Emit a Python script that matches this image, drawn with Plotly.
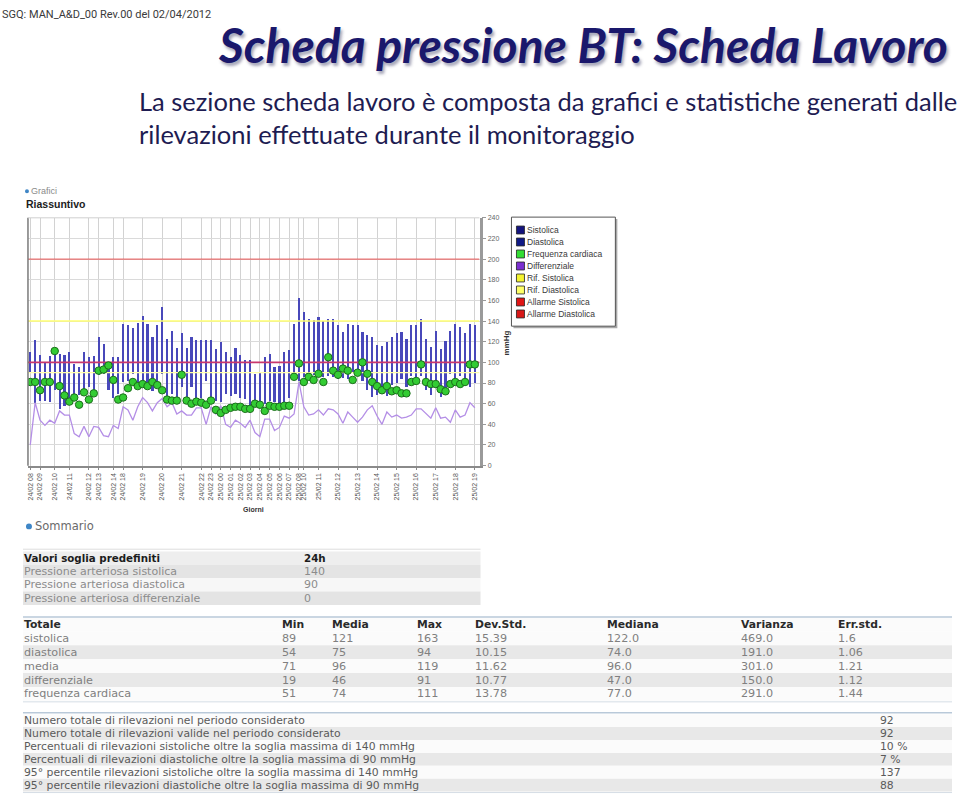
import plotly.graph_objects as go

W, H = 960, 801

# ---------------- data ----------------
sys_bp = [110,122,107,100,106,114,108,107,110,99,96,110,105,106,125,118,101,105,105,137,
          136,133,138,145,137,125,136,154,123,131,114,129,114,125,122,122,122,122,113,120,
          110,105,114,107,102,102,89,90,105,108,96,97,110,112,137,163,
          149,142,141,144,140,142,142,136,130,137,136,136,130,127,125,117,116,120,125,129,
          130,123,136,136,142,123,115,131,113,121,131,137,134,129,137,136]
dia_bp = [91,61,63,63,62,73,55,58,60,66,69,72,76,68,88,89,73,66,70,81,
          82,89,79,81,79,72,75,89,66,70,64,76,65,76,66,66,82,65,63,62,
          70,68,70,66,65,58,57,62,60,63,62,60,62,66,86,82,
          86,88,88,88,86,87,86,84,85,84,90,92,82,73,67,69,76,68,78,80,
          84,76,87,81,87,73,69,75,67,74,89,83,87,80,76,80]
diff_bp = [20,61,44,39,44,41,53,49,49,31,28,38,28,38,37,29,28,39,36,57,
           54,44,57,66,61,53,61,65,57,61,50,53,49,49,56,56,40,57,50,58,
           40,37,44,41,37,44,32,28,45,45,34,37,48,46,50,81,
           57,49,50,54,49,55,54,50,41,52,47,42,47,54,58,48,40,52,47,49,
           46,47,49,55,55,50,46,56,46,47,42,54,47,49,61,56]
hr = [81,81,73,81,81,111,77,68,62,66,59,71,64,70,92,93,97,83,64,66,
      75,81,77,79,77,81,78,73,64,63,63,88,63,60,62,61,59,63,54,51,
      54,56,57,57,55,55,60,59,53,58,57,57,58,58,86,99,
      81,86,83,89,81,105,92,88,94,92,83,90,100,89,81,77,73,77,72,73,
      70,70,81,82,98,81,79,79,74,72,79,81,79,81,98,98]
idx = list(range(len(sys_bp)))

tick_idx = [0,2,5,8,12,14,17,19,23,27,31,35,37,39,41,43,45,47,49,51,53,55,56,
            59,63,67,71,75,79,83,87,91]
tick_lbl = ["24/02 08","24/02 09","24/02 10","24/02 11","24/02 12","24/02 13","24/02 14",
            "24/02 18","24/02 19","24/02 20","24/02 21","24/02 22","24/02 23",
            "25/02 00","25/02 01","25/02 02","25/02 03","25/02 04","25/02 05","25/02 06",
            "25/02 07","25/02 08","25/02 10","25/02 11","25/02 12","25/02 13","25/02 14",
            "25/02 15","25/02 16","25/02 17","25/02 18","25/02 19"]

ref_sys, ref_dia, alarm_sys, alarm_dia = 140, 90, 200, 100

legend_names = ["Sistolica","Diastolica","Frequenza cardiaca","Differenziale",
                "Rif. Sistolica","Rif. Diastolica","Allarme Sistolica","Allarme Diastolica"]
legend_cols = ["#14147e","#101a86","#33dd33","#7b2fd0","#f4f430","#ffff66","#e01515","#d81818"]

thr_header = ["Valori soglia predefiniti", "24h"]
thr_rows = ["Pressione arteriosa sistolica","Pressione arteriosa diastolica",
            "Pressione arteriosa differenziale"]
thr_vals = ["140","90","0"]

stat_cols = ["Totale","Min","Media","Max","Dev.Std.","Mediana","Varianza","Err.std."]
stat_names = ["sistolica","diastolica","media","differenziale","frequenza cardiaca"]
stat_min = ["89","54","71","19","51"]
stat_mean = ["121","75","96","46","74"]
stat_max = ["163","94","119","91","111"]
stat_std = ["15.39","10.15","11.62","10.77","13.78"]
stat_median = ["122.0","74.0","96.0","47.0","77.0"]
stat_var = ["469.0","191.0","301.0","150.0","291.0"]
stat_err = ["1.6","1.06","1.21","1.12","1.44"]

sum_labels = ["Numero totale di rilevazioni nel periodo considerato",
              "Numero totale di rilevazioni valide nel periodo considerato",
              "Percentuali di rilevazioni sistoliche oltre la soglia massima di 140 mmHg",
              "Percentuali di rilevazioni diastoliche oltre la soglia massima di 90 mmHg",
              "95° percentile rilevazioni sistoliche oltre la soglia massima di 140 mmHg",
              "95° percentile rilevazioni diastoliche oltre la soglia massima di 90 mmHg"]
sum_vals = ["92","92","10 %","7 %","137","88"]

# ---------------- helpers ----------------
def fx(x):
    return x / W

def fy(y):
    return 1 - y / H

annots = []
shapes = []
PAD = 3  # annotation inner offset

def ann(x, y, text, size, color, family="Liberation Sans", xanchor="left",
        yanchor="middle", angle=0, shadow=None):
    xx = x - PAD if xanchor == "left" else x
    font = dict(size=size, color=color, family=family)
    if shadow:
        font["shadow"] = shadow
    annots.append(dict(x=fx(xx), y=fy(y), xref="paper", yref="paper", text=text,
                       showarrow=False, xanchor=xanchor, yanchor=yanchor,
                       textangle=angle, font=font, borderpad=0))

def rect(x0, y0, x1, y1, fill, line=None, lw=0):
    shapes.append(dict(type="rect", xref="paper", yref="paper", x0=fx(x0), x1=fx(x1),
                       y0=fy(y1), y1=fy(y0), fillcolor=fill,
                       line=dict(color=line or fill, width=lw),
                       layer="below" if lw == 0 else "above"))

def hline(x0, x1, y, color, w=1):
    shapes.append(dict(type="line", xref="paper", yref="paper", x0=fx(x0), x1=fx(x1),
                       y0=fy(y), y1=fy(y), line=dict(color=color, width=w)))

def vline(x, y0, y1, color, w=1):
    shapes.append(dict(type="line", xref="paper", yref="paper", x0=fx(x), x1=fx(x),
                       y0=fy(y0), y1=fy(y1), line=dict(color=color, width=w)))

# ---------------- chart ----------------
PX0, PX1 = 27, 479
PY_TOP, PY_BOT = 215.7, 465.7
XR = [-0.47, 91.96]

fig = go.Figure()
for lvl, col, w in [(ref_sys, "#ffff70", 1.5), (ref_dia, "#ffffa8", 1.2),
                    (alarm_sys, "#e85050", 1.0), (alarm_dia, "#c8386e", 1.6)]:
    fig.add_trace(go.Scatter(x=XR, y=[lvl, lvl], mode="lines", line=dict(color=col, width=w),
                             hoverinfo="skip"))
fig.add_trace(go.Bar(x=idx, y=[s - d for s, d in zip(sys_bp, dia_bp)], base=dia_bp,
                     width=0.44, marker=dict(color="#4848ba", line=dict(width=0))))
fig.add_trace(go.Scatter(x=idx, y=diff_bp, mode="lines",
                         line=dict(color="#b48ee6", width=1.3)))
fig.add_trace(go.Scatter(x=idx, y=hr, mode="markers",
                         marker=dict(size=7.5, color="#33cc33",
                                     line=dict(color="#1c6e1c", width=1))))

# chart borders
vline(PX0, PY_TOP, PY_BOT, "#7a7a7a", 1.5)
hline(PX0, PX1, PY_TOP, "#cfcfcf", 1)

# chart titles / labels
shapes.append(dict(type="circle", xref="paper", yref="paper", x0=fx(24), x1=fx(28),
                   y0=fy(191), y1=fy(187), fillcolor="#3f86c6", line=dict(width=0)))
ann(32, 189, "Grafici", 9, "#8a8a8a")
ann(27, 201.5, "<b>Riassuntivo</b>", 10.5, "#1c1c1c")
ann(253, 510, "<b>Giorni</b>", 7, "#333333", xanchor="center")
ann(506, 342, "<b>mmHg</b>", 8, "#333333", xanchor="center", angle=-90)

# legend box
rect(513, 217, 617, 327, "#a8a8a8")
rect(511, 215, 615, 325, "#ffffff", "#555555", 1)
for k, (nm, col) in enumerate(zip(legend_names, legend_cols)):
    yc = 228 + 12.1 * k
    rect(516, yc - 4, 524, yc + 4, col, "#222222", 0.8)
    ann(529, yc, nm, 8.5, "#3a3a3a", family="Liberation Sans")

# ---------------- header texts ----------------
ann(3, 11, "SGQ: MAN_A&D_00 Rev.00 del 02/04/2012", 11, "#3a3a3a", family="Roboto")
ann(219, 41, "<b><i>Scheda pressione BT: Scheda Lavoro</i></b>", 48, "#1a186c",
    family="Lato", shadow="2px 3px 3px rgba(60,60,100,0.45)")
ann(140, 98, "La sezione scheda lavoro è composta da grafici e statistiche generati dalle",
    25.5, "#1e1c52", family="Lato")
ann(140, 131, "rilevazioni effettuate durante il monitoraggio", 25.5, "#1e1c52", family="Lato")

# ---------------- Sommario ----------------
shapes.append(dict(type="circle", xref="paper", yref="paper", x0=fx(25), x1=fx(31),
                   y0=fy(530), y1=fy(524), fillcolor="#3f86c6", line=dict(width=0)))
ann(36, 527, "Sommario", 11.5, "#6a6a6a", family="DejaVu Sans")

VERD = "DejaVu Sans"

# table 1
hline(22, 480, 550, "#dddddd", 1)
t1_rows_y = [559, 572.5, 586, 599.5]
t1_fill = ["#eeeeee", "#e4e4e4", "#f7f7f7", "#e4e4e4"]
for yc, f in zip(t1_rows_y, t1_fill):
    rect(22, yc - 6.75, 480, yc + 6.75, f)
ann(25, t1_rows_y[0], "<b>" + thr_header[0] + "</b>", 10.3, "#1c1c1c", family=VERD)
ann(305, t1_rows_y[0], "<b>" + thr_header[1] + "</b>", 10.3, "#1c1c1c", family=VERD)
for yc, nm, v in zip(t1_rows_y[1:], thr_rows, thr_vals):
    ann(25, yc, nm, 11, "#8c8c8c", family=VERD)
    ann(305, yc, v, 11, "#8c8c8c", family=VERD)

# table 2
t2_x = [25, 283, 333, 418, 476, 609, 743, 840]
t2_rows_y = [626, 640, 654, 668, 682, 696]
hline(22, 952, 618.5, "#b9c9d9", 1.5)
hline(22, 952, 704, "#d5dde5", 1)
for k, yc in enumerate(t2_rows_y):
    rect(22, yc - 7, 952, yc + 7, "#e8e8e8" if k in (2, 4) else "#fbfbfb")
for x, c in zip(t2_x, stat_cols):
    ann(x, t2_rows_y[0], "<b>" + c + "</b>", 10.8, "#2a2a2a", family=VERD)
stat_table = [stat_names, stat_min, stat_mean, stat_max, stat_std, stat_median, stat_var, stat_err]
for x, col in zip(t2_x, stat_table):
    for yc, v in zip(t2_rows_y[1:], col):
        ann(x, yc, v, 11.2, "#808080", family=VERD)

# table 3
t3_rows_y = [723, 736, 749, 762, 775, 788]
hline(22, 952, 715, "#b9c9d9", 1.5)
hline(22, 952, 795.5, "#d5dde5", 1)
for k, yc in enumerate(t3_rows_y):
    rect(22, yc - 6.5, 952, yc + 6.5, "#e8e8e8" if k % 2 == 1 else "#fbfbfb")
for yc, lb, v in zip(t3_rows_y, sum_labels, sum_vals):
    ann(25, yc, lb, 10.8, "#5a5a5a", family=VERD)
    ann(882, yc, v, 10.8, "#5a5a5a", family=VERD)

fig.update_layout(
    width=W, height=H, margin=dict(l=0, r=0, t=0, b=0),
    paper_bgcolor="white", plot_bgcolor="white", showlegend=False, bargap=0,
    xaxis=dict(domain=[fx(PX0), fx(PX1)], range=XR, tickmode="array",
               tickvals=tick_idx, ticktext=tick_lbl, tickangle=-90,
               tickfont=dict(size=7, color="#555555", family="Liberation Sans"),
               ticks="outside", ticklen=3, tickcolor="#888888",
               showgrid=True, gridcolor="#d2d2d2", gridwidth=1,
               showline=True, linecolor="#8a8a8a", linewidth=1.5, zeroline=False),
    yaxis=dict(domain=[fy(PY_BOT), fy(PY_TOP)], range=[0, 240], dtick=20, side="right",
               tickfont=dict(size=7, color="#666666", family="Liberation Sans"),
               ticks="outside", ticklen=4, tickcolor="#999999",
               showgrid=True, gridcolor="#dadada", gridwidth=1,
               showline=True, linecolor="#9a9a9a", linewidth=2.5, zeroline=False),
    annotations=annots, shapes=shapes,
)

fig.write_html("out.html")
